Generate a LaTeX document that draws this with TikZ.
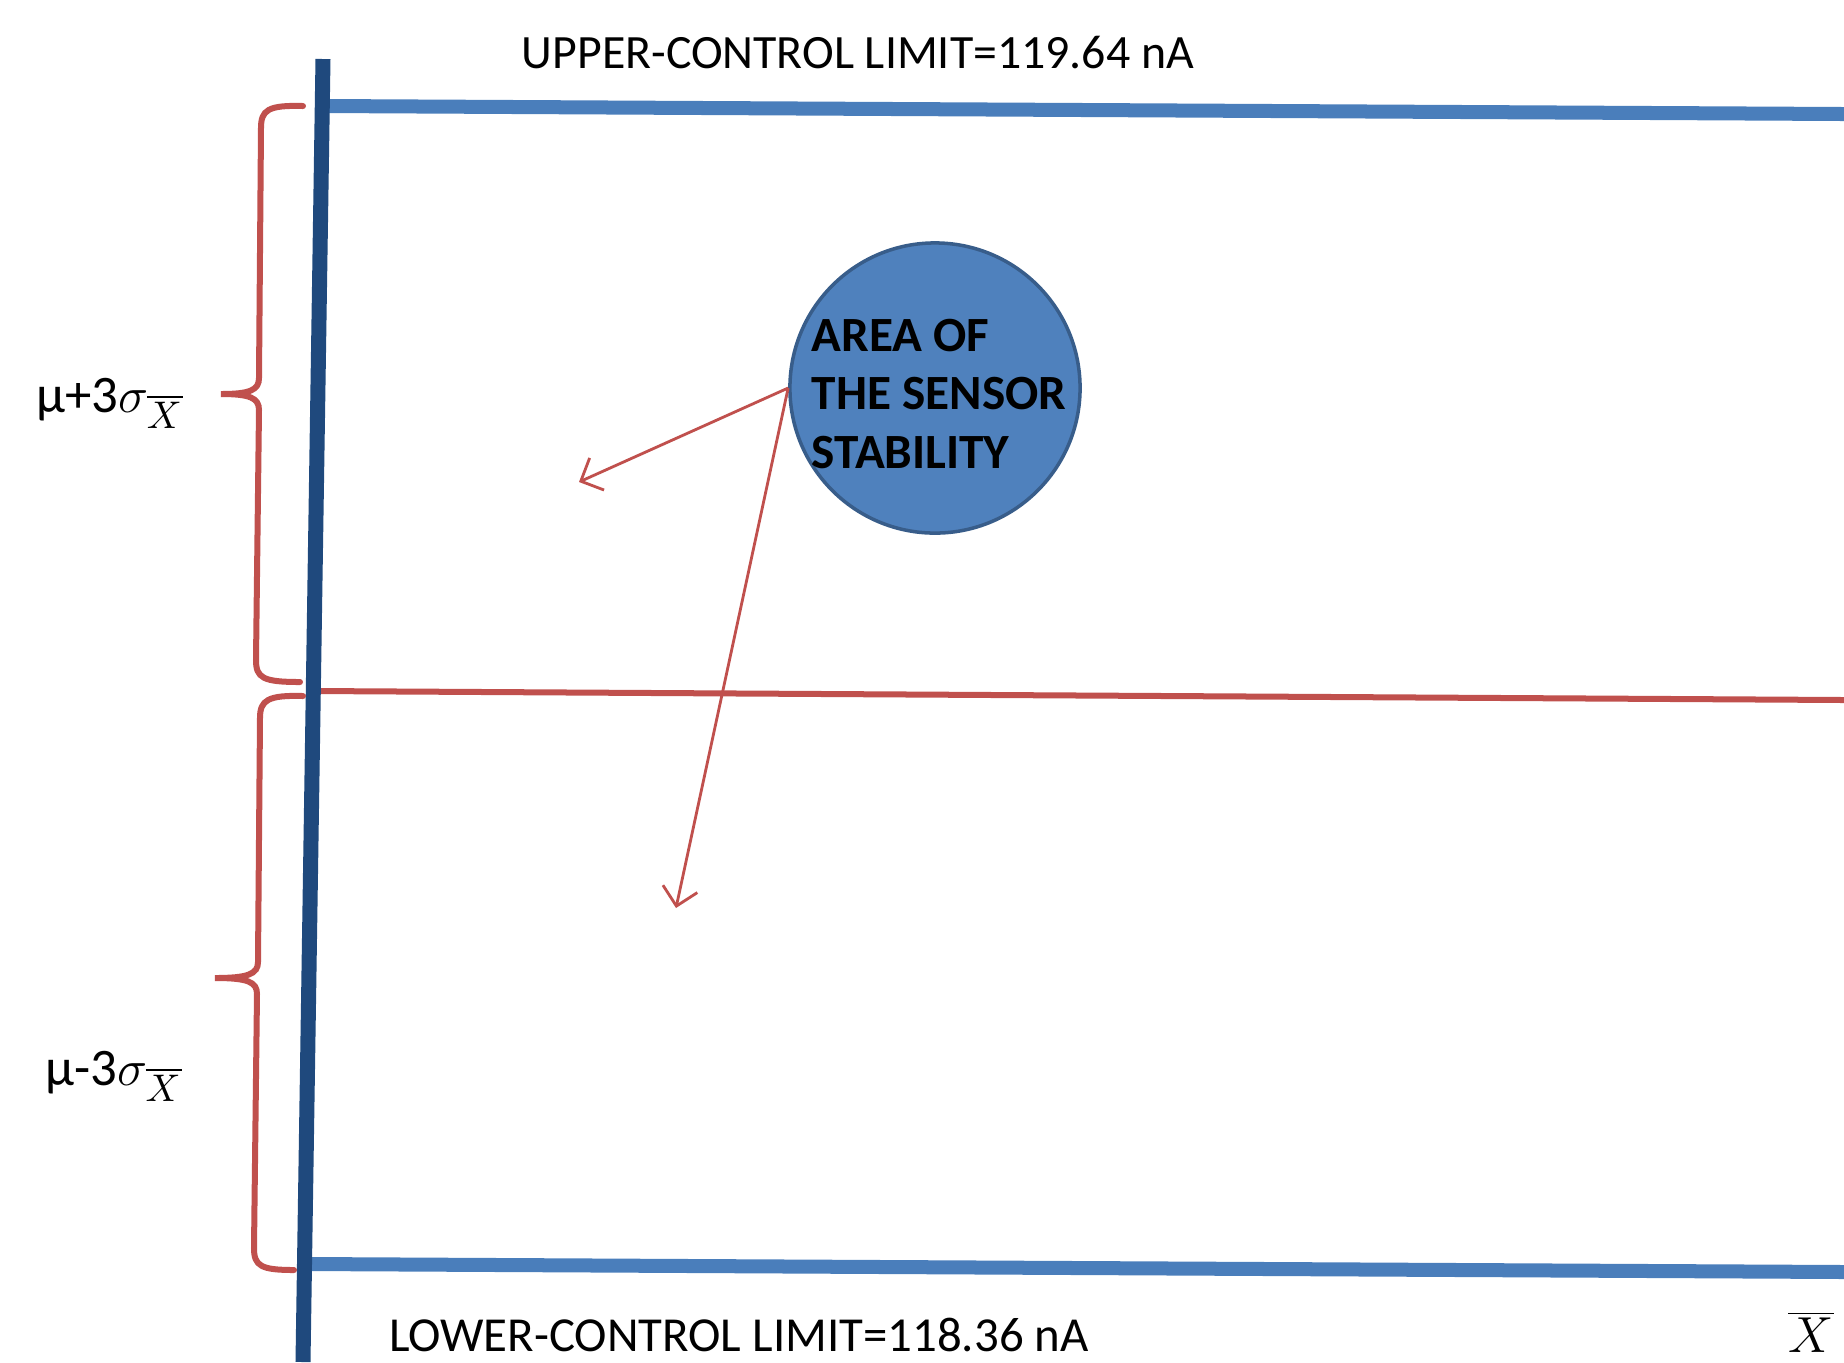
\documentclass[tikz,border=0pt]{standalone}
\usepackage{fontspec}
\setmainfont{Carlito}
\usetikzlibrary{
    arrows.meta,
}
\definecolor{axisblue}{HTML}{1F497D}
\definecolor{limitblue}{HTML}{4A7EBB}
\definecolor{centerred}{HTML}{C0504D}
\definecolor{circlefill}{HTML}{4F81BD}
\definecolor{circleline}{HTML}{385D8A}

\begin{document}
\begin{tikzpicture}[x=0.01cm, y=-0.01cm,
    every node/.style={font=\fontsize{13.6}{16}\selectfont},
    limitline/.style={limitblue, line width=0.14cm},
    sigmabrace/.style={centerred, line width=0.06cm, line cap=round},
    pointer/.style={centerred, line width=0.8pt,
        -{Straight Barb[length=5pt, width=10pt]}},
    siglabel/.style={font=\fontsize{15}{18}\selectfont}]

\useasboundingbox (0, 0) rectangle (1844, 1362);

% =============================================================================
% Control limits and centre line
% =============================================================================
\draw[limitline] (326, 106) -- (1844, 114);
\node (ucl) at (858, 53) {UPPER-CONTROL LIMIT=119.64 nA};

\draw[centerred, line width=0.06cm] (315, 691) -- (1844, 700);

\draw[limitline] (308, 1264) -- (1844, 1272);
\node[font=\fontsize{13.9}{16}\selectfont] (lcl) at (739, 1335)
    {LOWER-CONTROL LIMIT=118.36 nA};

% Vertical axis
\draw[axisblue, line width=0.15cm] (323, 59) -- (303, 1362);
\node[siglabel] (xbar) at (1811, 1332) {$\overline{X}$};

% =============================================================================
% Sigma braces
% =============================================================================
% Upper brace
\draw[sigmabrace] (303, 106) .. controls (268, 105) and (261, 110) .. (261, 128)
    -- (259, 378) .. controls (259, 390) and (250, 394) .. (221, 394)
    .. controls (250, 394) and (259, 398) .. (259, 410)
    -- (256, 660) .. controls (256, 678) and (263, 682) .. (300, 682);
\node[siglabel] (plus) at (110, 403) {μ+3$\sigma_{\overline{X}}$};

% Lower brace
\draw[sigmabrace] (303, 696) .. controls (268, 695) and (260, 700) .. (260, 718)
    -- (258, 962) .. controls (258, 974) and (248, 978) .. (215, 978)
    .. controls (248, 978) and (257, 982) .. (257, 994)
    -- (254, 1248) .. controls (254, 1266) and (261, 1270) .. (294, 1270);
\node[siglabel] (minus) at (114, 1076) {μ-3$\sigma_{\overline{X}}$};

% =============================================================================
% Stability area
% =============================================================================
\node[circle, draw=circleline, line width=1pt, fill=circlefill,
      minimum size=2.9cm, inner sep=0pt]
    (area) at (935, 388) {};
\node[align=left, font=\bfseries\fontsize{14}{16.5}\selectfont]
    (areatext) at (939, 394) {AREA OF\\THE SENSOR\\STABILITY};

\coordinate (upperhit) at (579, 482);
\coordinate (lowerhit) at (676, 908);
\draw[pointer] (area.west) -- (upperhit);
\draw[pointer] (area.west) -- (lowerhit);

\end{tikzpicture}
\end{document}
